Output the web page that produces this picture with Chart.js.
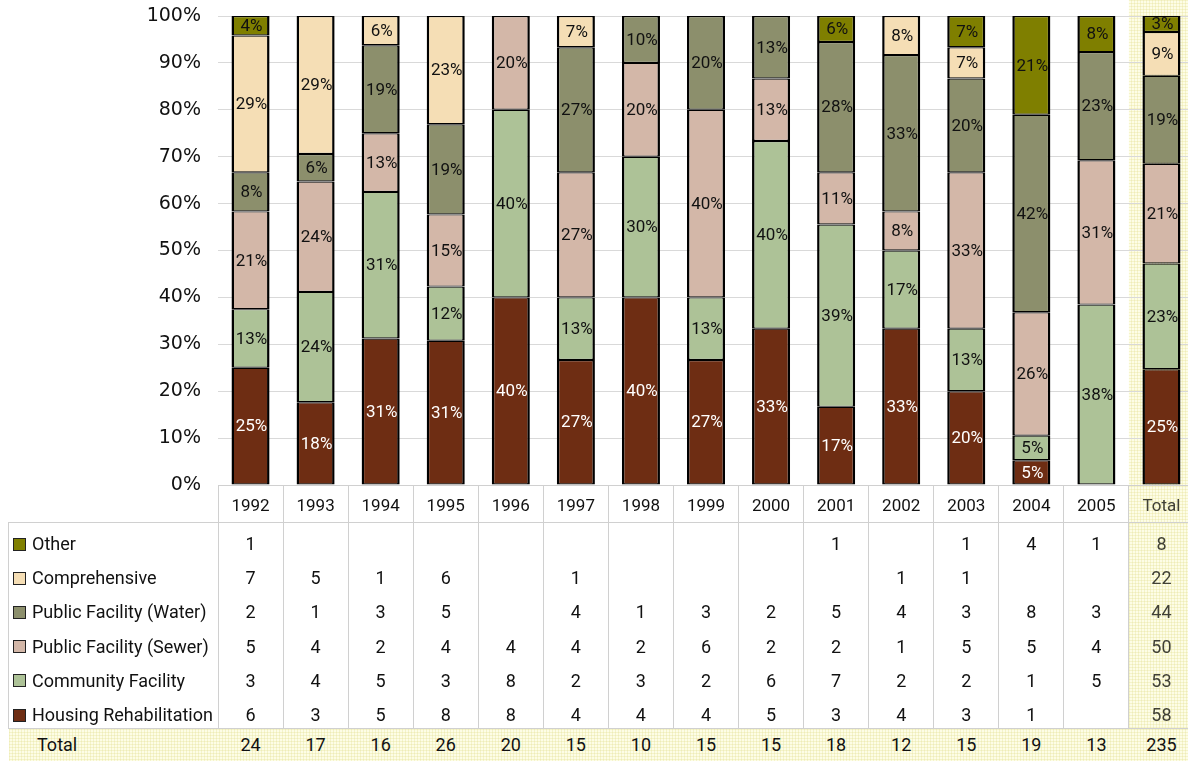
<!DOCTYPE html>
<html>
<head>
<meta charset="utf-8">
<title>Projects by type, 1992-2005</title>
<script src="https://cdn.jsdelivr.net/npm/chart.js@4.4.0/dist/chart.umd.min.js"></script>
<style>
  html, body { margin: 0; padding: 0; background: #fff; overflow: hidden; }
  #page { position: relative; width: 1188px; height: 761px; overflow: hidden; font-family: Roboto, 'Noto Sans', sans-serif; color: #111; }
  #c { position: absolute; left: 0; top: 0; }
  .hatch {
    background-color: #fdfde6;
    background-image: linear-gradient(rgba(228, 224, 150, 0.35) 1px, transparent 1px),
                      linear-gradient(90deg, rgba(228, 224, 150, 0.35) 1px, transparent 1px);
    background-size: 3px 3px;
  }
  .abs { position: absolute; }
  .txt { position: absolute; font-size: 18px; line-height: 20px; white-space: nowrap; }
  .num { transform: translateX(-50%); }
  .vline { position: absolute; width: 1px; background: #d0d0d0; }
  .swatch { position: absolute; width: 11px; height: 11px; border: 1px solid #222; }
</style>
</head>
<body>
<div id="page">
  <canvas id="c" width="1194" height="525"></canvas>
</div>
<script>
// columns of the chart and table
var years = ['1992', '1993', '1994', '1995', '1996', '1997', '1998', '1999', '2000', '2001', '2002', '2003', '2004', '2005', 'Total'];

// project counts (0 = empty cell)
var otherCounts         = [1, 0, 0, 0, 0, 0, 0, 0, 0, 1, 0, 1, 4, 1, 8];
var comprehensiveCounts = [7, 5, 1, 6, 0, 1, 0, 0, 0, 0, 1, 1, 0, 0, 22];
var waterCounts         = [2, 1, 3, 5, 0, 4, 1, 3, 2, 5, 4, 3, 8, 3, 44];
var sewerCounts         = [5, 4, 2, 4, 4, 4, 2, 6, 2, 2, 1, 5, 5, 4, 50];
var communityCounts     = [3, 4, 5, 3, 8, 2, 3, 2, 6, 7, 2, 2, 1, 5, 53];
var housingCounts       = [6, 3, 5, 8, 8, 4, 4, 4, 5, 3, 4, 3, 1, 0, 58];
var totals              = [24, 17, 16, 26, 20, 15, 10, 15, 15, 18, 12, 15, 19, 13, 235];

// bottom of the stack first
var seriesNames  = ['Housing Rehabilitation', 'Community Facility', 'Public Facility (Sewer)', 'Public Facility (Water)', 'Comprehensive', 'Other'];
var seriesCounts = [housingCounts, communityCounts, sewerCounts, waterCounts, comprehensiveCounts, otherCounts];
var seriesColors = ['#6e2d13', '#adc297', '#d3b7a8', '#8c8f6c', '#f5deb5', '#7f7f00'];

function toPercent(counts) {
  return counts.map(function(c, i) { return c ? c / totals[i] * 100 : null; });
}

function hatchPattern(ctx) {
  var c = document.createElement('canvas');
  c.width = 3; c.height = 3;
  var g = c.getContext('2d');
  g.fillStyle = '#fdfde6'; g.fillRect(0, 0, 3, 3);
  g.fillStyle = 'rgba(228,224,150,0.35)';
  g.fillRect(0, 0, 3, 1); g.fillRect(0, 0, 1, 3);
  return ctx.createPattern(c, 'repeat');
}

// yellow hatched background behind the Total column
var totalColumnBg = {
  id: 'totalColumnBg',
  beforeDraw: function(chart) {
    var a = chart.chartArea, n = years.length;
    var w = (a.right - a.left) / n;
    var left = a.left + w * (n - 1);
    var ctx = chart.ctx;
    ctx.save();
    ctx.fillStyle = hatchPattern(ctx);
    ctx.fillRect(left, 0, a.right - left, chart.height);
    ctx.restore();
  }
};

// percent labels in the middle of every segment
var segmentLabels = {
  id: 'segmentLabels',
  afterDatasetsDraw: function(chart) {
    var ctx = chart.ctx;
    ctx.save();
    ctx.font = '17px Roboto';
    ctx.textAlign = 'center';
    ctx.textBaseline = 'middle';
    chart.data.datasets.forEach(function(ds, d) {
      var meta = chart.getDatasetMeta(d);
      meta.data.forEach(function(bar, i) {
        var v = ds.data[i];
        if (!v) return;
        ctx.fillStyle = d === 0 ? '#fff' : '#111';
        ctx.fillText(Math.round(v) + '%', bar.x + 1, (bar.y + bar.base) / 2 + 1);
      });
    });
    ctx.restore();
  }
};

Chart.defaults.font.family = 'Roboto';

var chart = new Chart(document.getElementById('c'), {
  type: 'bar',
  data: {
    labels: years,
    datasets: seriesNames.map(function(name, k) {
      return {
        label: name,
        data: toPercent(seriesCounts[k]),
        backgroundColor: seriesColors[k],
        borderColor: '#000',
        borderWidth: { top: 1.2, right: 2.5, bottom: 1.2, left: 2.5 },
        borderSkipped: false,
        inflateAmount: 0,
        barPercentage: 0.585,
        categoryPercentage: 1.0
      };
    })
  },
  options: {
    responsive: false,
    animation: false,
    layout: { padding: { top: 16, right: 0, bottom: 3, left: 0 } },
    plugins: { legend: { display: false }, tooltip: { enabled: false } },
    scales: {
      x: {
        stacked: true,
        grid: { display: true, drawOnChartArea: false, drawTicks: true, tickLength: 37, color: '#d0d0d0', offset: true },
        border: { display: true, color: '#d0d0d0' },
        ticks: {
          font: { size: 17 },
          color: function(c) { return c.index === years.length - 1 ? '#404035' : '#111'; },
          padding: -25,
          maxRotation: 0,
          autoSkip: false
        },
        afterFit: function(s) { s.height = 37; }
      },
      y: {
        stacked: true,
        min: 0,
        max: 100,
        grid: { color: '#d9d9d9', drawTicks: false },
        border: { display: false },
        ticks: {
          stepSize: 10,
          padding: 17,
          color: '#111',
          font: { family: 'DejaVu Sans', size: 19 },
          callback: function(v) { return v + '%'; }
        },
        afterFit: function(s) {
          s.width = 218;
          s.paddingTop = 0;
          s.paddingBottom = 0;
        }
      }
    }
  },
  plugins: [totalColumnBg, segmentLabels]
});

// data table under the chart, columns taken from the x scale
function buildTable() {
  var page = document.getElementById('page');
  var xs = chart.scales.x, area = chart.chartArea, n = years.length;
  var colW = (area.right - area.left) / n;
  var top = 522, bottom = 728;

  function el(cls, css, text) {
    var d = document.createElement('div');
    d.className = cls;
    Object.keys(css).forEach(function(k) { d.style[k] = css[k]; });
    if (text !== undefined) d.textContent = text;
    page.appendChild(d);
    return d;
  }

  var totalLeft = Math.round(area.left + colW * (n - 1) - 0.5);
  el('abs hatch', { left: (totalLeft + 1) + 'px', top: (top + 1) + 'px', width: (1188 - totalLeft) + 'px', height: (bottom - top - 1) + 'px' });
  el('abs hatch', { left: '9px', top: (bottom + 1) + 'px', width: '1179px', height: '32px' });

  // frame
  el('abs', { left: '8px', top: top + 'px', width: '1186px', height: (bottom - top + 1) + 'px',
    boxSizing: 'border-box', borderTop: '1px solid #d0d0d0', borderLeft: '1px solid #d0d0d0', borderBottom: '1px solid #d0d0d0' });
  for (var k = 0; k < n; k++) {
    var bx = Math.round(area.left + k * colW - 0.5);
    el('vline', { left: bx + 'px', top: top + 'px', height: (bottom - top) + 'px' });
  }

  // rows, top to bottom: Other ... Housing Rehabilitation
  for (var r = 0; r < seriesNames.length; r++) {
    var s = seriesNames.length - 1 - r;
    var cy = 544 + r * 34.2;
    el('swatch', { left: '13px', top: (cy - 6.5) + 'px', background: seriesColors[s] });
    el('txt', { left: '32px', top: (cy - 10) + 'px' }, seriesNames[s]);
    seriesCounts[s].forEach(function(v, i) {
      if (!v) return;
      el('txt num', { left: xs.getPixelForValue(i) + 'px', top: (cy - 10) + 'px',
        color: i === n - 1 ? '#404035' : '#111' }, String(v));
    });
  }

  // total row
  el('txt', { left: '37px', top: '735px' }, 'Total');
  totals.forEach(function(v, i) {
    el('txt num', { left: xs.getPixelForValue(i) + 'px', top: '735px' }, String(v));
  });
}
buildTable();
</script>
</body>
</html>
